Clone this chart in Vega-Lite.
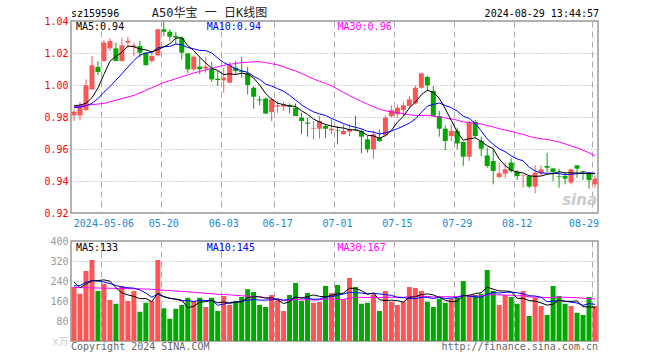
{
  "$schema": "https://vega.github.io/schema/vega-lite/v6.json",
  "autosize": {"type": "pad"},
  "padding": {"left": 43, "top": 6, "right": 0, "bottom": 0},
  "background": "white",
  "spacing": 28,
  "bounds": "flush",
  "config": {
    "view": {"stroke": "#999999", "strokeWidth": 1.5},
    "font": "DejaVu Sans Mono",
    "axis": {"labelOverlap": false, "labelFlush": false}
  },
  "data": {
    "values": [
      {"d":"2024-04-24","o":0.9810,"h":0.9848,"l":0.9775,"c":0.9833,"v":216,"m5":0.9869,"m10":0.9858,"m30":0.9865,"vm5":236,"vm10":220,"vm30":214},
      {"d":"2024-04-25","o":0.9810,"h":0.9894,"l":0.9779,"c":0.9869,"v":189,"m5":0.9875,"m10":0.9862,"m30":0.9869,"vm5":213,"vm10":222,"vm30":213.5},
      {"d":"2024-04-26","o":0.9844,"h":1.0035,"l":0.9838,"c":0.9998,"v":280,"m5":0.9885,"m10":0.9870,"m30":0.9873,"vm5":228,"vm10":235,"vm30":213},
      {"d":"2024-04-29","o":0.9973,"h":1.0181,"l":0.9969,"c":1.0123,"v":324,"m5":0.9921,"m10":0.9885,"m30":0.9877,"vm5":240,"vm10":242,"vm30":212.5},
      {"d":"2024-04-30","o":1.0113,"h":1.0150,"l":1.0060,"c":1.0081,"v":200,"m5":0.9981,"m10":0.9915,"m30":0.9881,"vm5":241.8,"vm10":240,"vm30":212},
      {"d":"2024-05-06","o":1.0150,"h":1.0281,"l":1.0146,"c":1.0265,"v":229,"m5":1.0067,"m10":0.9955,"m30":0.9885,"vm5":244.4,"vm10":236,"vm30":211.5},
      {"d":"2024-05-07","o":1.0229,"h":1.0292,"l":1.0213,"c":1.0275,"v":164,"m5":1.0148,"m10":0.9990,"m30":0.9895,"vm5":239.4,"vm10":230,"vm30":211},
      {"d":"2024-05-08","o":1.0229,"h":1.0265,"l":1.0150,"c":1.0150,"v":149,"m5":1.0179,"m10":1.0030,"m30":0.9905,"vm5":213.2,"vm10":222,"vm30":210.5},
      {"d":"2024-05-09","o":1.0150,"h":1.0296,"l":1.0146,"c":1.0248,"v":220,"m5":1.0204,"m10":1.0070,"m30":0.9915,"vm5":192.4,"vm10":216,"vm30":210},
      {"d":"2024-05-10","o":1.0265,"h":1.0302,"l":1.0233,"c":1.0275,"v":160,"m5":1.0243,"m10":1.0112,"m30":0.9925,"vm5":184.4,"vm10":213.1,"vm30":209.5},
      {"d":"2024-05-13","o":1.0240,"h":1.0265,"l":1.0181,"c":1.0248,"v":200,"m5":1.0239,"m10":1.0153,"m30":0.9935,"vm5":178.6,"vm10":211.5,"vm30":209},
      {"d":"2024-05-14","o":1.0244,"h":1.0275,"l":1.0171,"c":1.0202,"v":117,"m5":1.0225,"m10":1.0187,"m30":0.9951,"vm5":169.2,"vm10":204.3,"vm30":208.5},
      {"d":"2024-05-15","o":1.0202,"h":1.0206,"l":1.0119,"c":1.0125,"v":153,"m5":1.0220,"m10":1.0199,"m30":0.9967,"vm5":170,"vm10":191.6,"vm30":208},
      {"d":"2024-05-16","o":1.0150,"h":1.0213,"l":1.0140,"c":1.0181,"v":160,"m5":1.0206,"m10":1.0205,"m30":0.9983,"vm5":158,"vm10":175.2,"vm30":207},
      {"d":"2024-05-17","o":1.0185,"h":1.0352,"l":1.0181,"c":1.0348,"v":324,"m5":1.0221,"m10":1.0232,"m30":0.9999,"vm5":190.8,"vm10":187.6,"vm30":205},
      {"d":"2024-05-20","o":1.0348,"h":1.0394,"l":1.0306,"c":1.0333,"v":131,"m5":1.0238,"m10":1.0239,"m30":1.0015,"vm5":177,"vm10":177.8,"vm30":203},
      {"d":"2024-05-21","o":1.0333,"h":1.0348,"l":1.0275,"c":1.0302,"v":89,"m5":1.0258,"m10":1.0241,"m30":1.0027,"vm5":171.4,"vm10":170.3,"vm30":201.5},
      {"d":"2024-05-22","o":1.0306,"h":1.0331,"l":1.0254,"c":1.0296,"v":129,"m5":1.0292,"m10":1.0256,"m30":1.0039,"vm5":166.6,"vm10":168.3,"vm30":200},
      {"d":"2024-05-23","o":1.0296,"h":1.0302,"l":1.0160,"c":1.0202,"v":144,"m5":1.0296,"m10":1.0251,"m30":1.0051,"vm5":163.4,"vm10":160.7,"vm30":198.5},
      {"d":"2024-05-24","o":1.0198,"h":1.0198,"l":1.0073,"c":1.0098,"v":173,"m5":1.0246,"m10":1.0234,"m30":1.0063,"vm5":133.2,"vm10":162,"vm30":197},
      {"d":"2024-05-27","o":1.0098,"h":1.0185,"l":1.0088,"c":1.0177,"v":160,"m5":1.0215,"m10":1.0226,"m30":1.0075,"vm5":139,"vm10":158,"vm30":195},
      {"d":"2024-05-28","o":1.0115,"h":1.0177,"l":1.0067,"c":1.0098,"v":173,"m5":1.0174,"m10":1.0216,"m30":1.0085,"vm5":155.8,"vm10":163.6,"vm30":193},
      {"d":"2024-05-29","o":1.0102,"h":1.0177,"l":1.0077,"c":1.0115,"v":136,"m5":1.0138,"m10":1.0215,"m30":1.0094,"vm5":157.2,"vm10":161.9,"vm30":191},
      {"d":"2024-05-30","o":1.0102,"h":1.0144,"l":1.0019,"c":1.0035,"v":173,"m5":1.0105,"m10":1.0200,"m30":1.0104,"vm5":163,"vm10":163.2,"vm30":189},
      {"d":"2024-05-31","o":1.0040,"h":1.0088,"l":0.9994,"c":1.0031,"v":120,"m5":1.0091,"m10":1.0169,"m30":1.0113,"vm5":152.4,"vm10":142.8,"vm30":187},
      {"d":"2024-06-03","o":1.0029,"h":1.0108,"l":0.9952,"c":1.0046,"v":180,"m5":1.0065,"m10":1.0140,"m30":1.0123,"vm5":156.4,"vm10":147.7,"vm30":186},
      {"d":"2024-06-04","o":1.0015,"h":1.0144,"l":1.0010,"c":1.0123,"v":144,"m5":1.0070,"m10":1.0122,"m30":1.0129,"vm5":150.6,"vm10":153.2,"vm30":184.5},
      {"d":"2024-06-05","o":1.0108,"h":1.0150,"l":1.0067,"c":1.0088,"v":160,"m5":1.0065,"m10":1.0101,"m30":1.0135,"vm5":155.4,"vm10":156.3,"vm30":183},
      {"d":"2024-06-06","o":1.0088,"h":1.0175,"l":1.0046,"c":1.0081,"v":176,"m5":1.0074,"m10":1.0089,"m30":1.0140,"vm5":156,"vm10":159.5,"vm30":181},
      {"d":"2024-06-07","o":1.0073,"h":1.0113,"l":0.9942,"c":1.0000,"v":207,"m5":1.0068,"m10":1.0079,"m30":1.0142,"vm5":173.4,"vm10":162.9,"vm30":179.3},
      {"d":"2024-06-11","o":0.9983,"h":0.9994,"l":0.9852,"c":0.9927,"v":196,"m5":1.0044,"m10":1.0054,"m30":1.0145,"vm5":176.6,"vm10":166.5,"vm30":178.7},
      {"d":"2024-06-12","o":0.9910,"h":0.9931,"l":0.9873,"c":0.9904,"v":144,"m5":1.0000,"m10":1.0035,"m30":1.0146,"vm5":176.6,"vm10":163.6,"vm30":177.2},
      {"d":"2024-06-13","o":0.9915,"h":0.9920,"l":0.9821,"c":0.9821,"v":136,"m5":0.9947,"m10":1.0006,"m30":1.0140,"vm5":171.8,"vm10":163.6,"vm30":172.4},
      {"d":"2024-06-14","o":0.9831,"h":0.9921,"l":0.9775,"c":0.9910,"v":184,"m5":0.9912,"m10":0.9993,"m30":1.0133,"vm5":173.4,"vm10":164.7,"vm30":167.7},
      {"d":"2024-06-17","o":0.9865,"h":0.9900,"l":0.9827,"c":0.9873,"v":163,"m5":0.9887,"m10":0.9977,"m30":1.0126,"vm5":164.6,"vm10":169,"vm30":166.5},
      {"d":"2024-06-18","o":0.9865,"h":0.9894,"l":0.9838,"c":0.9879,"v":120,"m5":0.9877,"m10":0.9961,"m30":1.0113,"vm5":149.4,"vm10":163,"vm30":162.8},
      {"d":"2024-06-19","o":0.9873,"h":0.9885,"l":0.9823,"c":0.9863,"v":184,"m5":0.9869,"m10":0.9935,"m30":1.0099,"vm5":157.4,"vm10":167,"vm30":163.5},
      {"d":"2024-06-20","o":0.9858,"h":0.9885,"l":0.9806,"c":0.9806,"v":232,"m5":0.9866,"m10":0.9906,"m30":1.0088,"vm5":176.6,"vm10":174.2,"vm30":166.3},
      {"d":"2024-06-21","o":0.9796,"h":0.9827,"l":0.9692,"c":0.9775,"v":160,"m5":0.9839,"m10":0.9876,"m30":1.0072,"vm5":171.8,"vm10":172.6,"vm30":164.3},
      {"d":"2024-06-24","o":0.9765,"h":0.9796,"l":0.9677,"c":0.9758,"v":192,"m5":0.9816,"m10":0.9852,"m30":1.0055,"vm5":177.6,"vm10":171.1,"vm30":165.3},
      {"d":"2024-06-25","o":0.9727,"h":0.9775,"l":0.9660,"c":0.9731,"v":153,"m5":0.9787,"m10":0.9832,"m30":1.0038,"vm5":184.2,"vm10":166.8,"vm30":163.8},
      {"d":"2024-06-26","o":0.9727,"h":0.9806,"l":0.9665,"c":0.9775,"v":156,"m5":0.9769,"m10":0.9819,"m30":1.0023,"vm5":178.6,"vm10":168,"vm30":165.1},
      {"d":"2024-06-27","o":0.9744,"h":0.9754,"l":0.9671,"c":0.9727,"v":220,"m5":0.9753,"m10":0.9810,"m30":1.0010,"vm5":176.2,"vm10":176.4,"vm30":167.3},
      {"d":"2024-06-28","o":0.9717,"h":0.9785,"l":0.9692,"c":0.9727,"v":192,"m5":0.9744,"m10":0.9791,"m30":0.9995,"vm5":182.6,"vm10":177.2,"vm30":168.4},
      {"d":"2024-07-01","o":0.9717,"h":0.9744,"l":0.9629,"c":0.9713,"v":224,"m5":0.9735,"m10":0.9775,"m30":0.9974,"vm5":189,"vm10":183.3,"vm30":165},
      {"d":"2024-07-02","o":0.9692,"h":0.9754,"l":0.9692,"c":0.9713,"v":167,"m5":0.9731,"m10":0.9759,"m30":0.9953,"vm5":191.8,"vm10":188,"vm30":166.2},
      {"d":"2024-07-03","o":0.9708,"h":0.9754,"l":0.9681,"c":0.9723,"v":252,"m5":0.9721,"m10":0.9745,"m30":0.9934,"vm5":211,"vm10":194.8,"vm30":171.7},
      {"d":"2024-07-04","o":0.9723,"h":0.9806,"l":0.9713,"c":0.9719,"v":216,"m5":0.9719,"m10":0.9736,"m30":0.9915,"vm5":210.2,"vm10":193.2,"vm30":174.6},
      {"d":"2024-07-05","o":0.9713,"h":0.9723,"l":0.9573,"c":0.9677,"v":149,"m5":0.9709,"m10":0.9726,"m30":0.9897,"vm5":201.6,"vm10":192.1,"vm30":174.7},
      {"d":"2024-07-08","o":0.9660,"h":0.9681,"l":0.9577,"c":0.9598,"v":153,"m5":0.9686,"m10":0.9710,"m30":0.9880,"vm5":187.4,"vm10":188.2,"vm30":174.1},
      {"d":"2024-07-09","o":0.9598,"h":0.9713,"l":0.9540,"c":0.9692,"v":187,"m5":0.9682,"m10":0.9706,"m30":0.9864,"vm5":191.4,"vm10":191.6,"vm30":175},
      {"d":"2024-07-10","o":0.9671,"h":0.9723,"l":0.9644,"c":0.9650,"v":120,"m5":0.9667,"m10":0.9694,"m30":0.9849,"vm5":165,"vm10":188,"vm30":173.2},
      {"d":"2024-07-11","o":0.9685,"h":0.9810,"l":0.9681,"c":0.9796,"v":200,"m5":0.9683,"m10":0.9701,"m30":0.9839,"vm5":161.8,"vm10":186,"vm30":175.3},
      {"d":"2024-07-12","o":0.9806,"h":0.9873,"l":0.9796,"c":0.9842,"v":157,"m5":0.9716,"m10":0.9712,"m30":0.9832,"vm5":163.4,"vm10":182.5,"vm30":174.8},
      {"d":"2024-07-15","o":0.9817,"h":0.9879,"l":0.9796,"c":0.9858,"v":144,"m5":0.9768,"m10":0.9727,"m30":0.9827,"vm5":161.6,"vm10":174.5,"vm30":175.6},
      {"d":"2024-07-16","o":0.9844,"h":0.9894,"l":0.9806,"c":0.9873,"v":157,"m5":0.9804,"m10":0.9743,"m30":0.9821,"vm5":155.6,"vm10":173.5,"vm30":174.8},
      {"d":"2024-07-17","o":0.9869,"h":0.9931,"l":0.9852,"c":0.9910,"v":216,"m5":0.9856,"m10":0.9762,"m30":0.9814,"vm5":174.8,"vm10":169.9,"vm30":177.2},
      {"d":"2024-07-18","o":0.9885,"h":0.9998,"l":0.9879,"c":0.9983,"v":212,"m5":0.9893,"m10":0.9788,"m30":0.9810,"vm5":177.2,"vm10":169.5,"vm30":179},
      {"d":"2024-07-19","o":0.9983,"h":1.0077,"l":0.9977,"c":1.0073,"v":200,"m5":0.9939,"m10":0.9828,"m30":0.9810,"vm5":185.8,"vm10":174.6,"vm30":179.8},
      {"d":"2024-07-22","o":1.0050,"h":1.0060,"l":0.9963,"c":0.9998,"v":157,"m5":0.9967,"m10":0.9868,"m30":0.9810,"vm5":188.4,"vm10":175,"vm30":178.1},
      {"d":"2024-07-23","o":0.9963,"h":0.9994,"l":0.9800,"c":0.9806,"v":136,"m5":0.9954,"m10":0.9879,"m30":0.9806,"vm5":184.2,"vm10":169.9,"vm30":176.1},
      {"d":"2024-07-24","o":0.9806,"h":0.9838,"l":0.9677,"c":0.9727,"v":169,"m5":0.9917,"m10":0.9887,"m30":0.9800,"vm5":174.8,"vm10":174.8,"vm30":176.9},
      {"d":"2024-07-25","o":0.9727,"h":0.9748,"l":0.9594,"c":0.9650,"v":153,"m5":0.9851,"m10":0.9872,"m30":0.9794,"vm5":163,"vm10":170.1,"vm30":177.5},
      {"d":"2024-07-26","o":0.9681,"h":0.9754,"l":0.9650,"c":0.9713,"v":170,"m5":0.9779,"m10":0.9859,"m30":0.9788,"vm5":157,"vm10":171.4,"vm30":177},
      {"d":"2024-07-29","o":0.9713,"h":0.9733,"l":0.9598,"c":0.9635,"v":173,"m5":0.9706,"m10":0.9837,"m30":0.9780,"vm5":160.2,"vm10":174.3,"vm30":177.4},
      {"d":"2024-07-30","o":0.9644,"h":0.9644,"l":0.9494,"c":0.9552,"v":240,"m5":0.9655,"m10":0.9805,"m30":0.9769,"vm5":181,"vm10":182.6,"vm30":181.4},
      {"d":"2024-07-31","o":0.9552,"h":0.9775,"l":0.9525,"c":0.9769,"v":180,"m5":0.9664,"m10":0.9791,"m30":0.9766,"vm5":183.2,"vm10":179,"vm30":181.2},
      {"d":"2024-08-01","o":0.9769,"h":0.9781,"l":0.9671,"c":0.9681,"v":184,"m5":0.9670,"m10":0.9760,"m30":0.9761,"vm5":189.4,"vm10":176.2,"vm30":179.6},
      {"d":"2024-08-02","o":0.9650,"h":0.9677,"l":0.9556,"c":0.9602,"v":189,"m5":0.9648,"m10":0.9713,"m30":0.9756,"vm5":193.2,"vm10":175.1,"vm30":180.6},
      {"d":"2024-08-05","o":0.9560,"h":0.9608,"l":0.9483,"c":0.9494,"v":284,"m5":0.9620,"m10":0.9663,"m30":0.9747,"vm5":215.4,"vm10":187.8,"vm30":183.7},
      {"d":"2024-08-06","o":0.9525,"h":0.9598,"l":0.9379,"c":0.9463,"v":200,"m5":0.9602,"m10":0.9629,"m30":0.9738,"vm5":207.4,"vm10":194.2,"vm30":185.2},
      {"d":"2024-08-07","o":0.9425,"h":0.9515,"l":0.9417,"c":0.9448,"v":144,"m5":0.9538,"m10":0.9601,"m30":0.9727,"vm5":200.2,"vm10":191.7,"vm30":184.8},
      {"d":"2024-08-08","o":0.9446,"h":0.9515,"l":0.9417,"c":0.9473,"v":184,"m5":0.9496,"m10":0.9583,"m30":0.9719,"vm5":200.2,"vm10":194.8,"vm30":183.6},
      {"d":"2024-08-09","o":0.9515,"h":0.9540,"l":0.9452,"c":0.9463,"v":176,"m5":0.9468,"m10":0.9558,"m30":0.9710,"vm5":197.6,"vm10":195.4,"vm30":183.1},
      {"d":"2024-08-12","o":0.9458,"h":0.9469,"l":0.9406,"c":0.9431,"v":149,"m5":0.9456,"m10":0.9538,"m30":0.9700,"vm5":170.6,"vm10":193,"vm30":180.6},
      {"d":"2024-08-13","o":0.9431,"h":0.9435,"l":0.9358,"c":0.9435,"v":200,"m5":0.9450,"m10":0.9526,"m30":0.9691,"vm5":170.6,"vm10":189,"vm30":181.7},
      {"d":"2024-08-14","o":0.9431,"h":0.9435,"l":0.9354,"c":0.9365,"v":100,"m5":0.9433,"m10":0.9486,"m30":0.9679,"vm5":161.8,"vm10":181,"vm30":176.6},
      {"d":"2024-08-15","o":0.9365,"h":0.9498,"l":0.9323,"c":0.9452,"v":173,"m5":0.9429,"m10":0.9463,"m30":0.9670,"vm5":159.6,"vm10":179.9,"vm30":175.2},
      {"d":"2024-08-16","o":0.9448,"h":0.9498,"l":0.9435,"c":0.9473,"v":140,"m5":0.9431,"m10":0.9450,"m30":0.9664,"vm5":152.4,"vm10":175,"vm30":174.9},
      {"d":"2024-08-19","o":0.9494,"h":0.9577,"l":0.9456,"c":0.9483,"v":104,"m5":0.9442,"m10":0.9449,"m30":0.9660,"vm5":143.4,"vm10":157,"vm30":173.3},
      {"d":"2024-08-20","o":0.9479,"h":0.9479,"l":0.9400,"c":0.9456,"v":220,"m5":0.9446,"m10":0.9448,"m30":0.9652,"vm5":147.4,"vm10":159,"vm30":174.4},
      {"d":"2024-08-21","o":0.9431,"h":0.9477,"l":0.9358,"c":0.9427,"v":180,"m5":0.9458,"m10":0.9446,"m30":0.9644,"vm5":163.4,"vm10":162.6,"vm30":176.4},
      {"d":"2024-08-22","o":0.9431,"h":0.9456,"l":0.9379,"c":0.9415,"v":149,"m5":0.9451,"m10":0.9440,"m30":0.9632,"vm5":158.6,"vm10":159.1,"vm30":174.7},
      {"d":"2024-08-23","o":0.9390,"h":0.9477,"l":0.9379,"c":0.9473,"v":140,"m5":0.9451,"m10":0.9441,"m30":0.9619,"vm5":158.6,"vm10":155.5,"vm30":174.1},
      {"d":"2024-08-26","o":0.9498,"h":0.9498,"l":0.9421,"c":0.9477,"v":113,"m5":0.9450,"m10":0.9446,"m30":0.9607,"vm5":160.4,"vm10":151.9,"vm30":173.1},
      {"d":"2024-08-27","o":0.9463,"h":0.9463,"l":0.9406,"c":0.9458,"v":104,"m5":0.9450,"m10":0.9448,"m30":0.9593,"vm5":137.2,"vm10":142.3,"vm30":171.3},
      {"d":"2024-08-28","o":0.9446,"h":0.9452,"l":0.9352,"c":0.9406,"v":176,"m5":0.9446,"m10":0.9452,"m30":0.9576,"vm5":136.4,"vm10":149.9,"vm30":170},
      {"d":"2024-08-29","o":0.9379,"h":0.9435,"l":0.9358,"c":0.9415,"v":140,"m5":0.9446,"m10":0.9448,"m30":0.9557,"vm5":134.6,"vm10":146.6,"vm30":167.6}
    ]
  },
  "vconcat": [
    {
      "width": 527,
      "height": 192,
      "encoding": {
        "x": {
          "field": "d", "type": "ordinal",
          "scale": {"paddingInner": 0, "paddingOuter": 0},
          "axis": {
            "title": null,
            "values": ["2024-05-06","2024-05-20","2024-06-03","2024-06-17","2024-07-01","2024-07-15","2024-07-29","2024-08-12","2024-08-29"],
            "labelExpr": "datum.value == '2024-05-06' ? datum.value : substring(datum.value, 5)",
            "labelAngle": 0,
            "labelColor": "#1a88d0",
            "labelFont": "DejaVu Sans Mono",
            "labelFontSize": 10,
            "labelPadding": 5,
            "labelAlign": {"condition": {"test": "datum.value == '2024-08-29'", "value": "right"}, "value": "center"},
            "labelOffset": {"condition": {"test": "datum.value == '2024-08-29'", "value": 4}, "value": 0},
            "labelOverlap": false,
            "labelBound": false,
            "ticks": false,
            "domain": false,
            "grid": true,
            "gridColor": "#aaaaaa",
            "gridDash": [6, 4],
            "gridWidth": 1,
            "bandPosition": 0.05
          }
        }
      },
      "layer": [
        {
          "mark": {"type": "rule", "strokeWidth": 1},
          "encoding": {
            "y": {
              "field": "l", "type": "quantitative",
              "scale": {"domain": [0.92, 1.04], "nice": false, "zero": false},
              "axis": {
                "title": null,
                "values": [0.92, 0.94, 0.96, 0.98, 1.0, 1.02, 1.04],
                "tickCount": 20,
                "format": ".2f",
                "labelColor": "#ff0000",
                "labelFont": "DejaVu Sans Mono",
                "labelFontSize": 10,
                "labelPadding": 3,
                "labelFlush": false,
                "labelOverlap": false,
                "ticks": false,
                "domain": false,
                "grid": true,
                "gridColor": "#aaaaaa",
                "gridDash": [1, 2],
                "gridWidth": 1
              }
            },
            "y2": {"field": "h"},
            "color": {"condition": {"test": "datum.c >= datum.o", "value": "#ff5555"}, "value": "#00a800"}
          }
        },
        {
          "mark": {"type": "bar", "width": 5},
          "encoding": {
            "y": {"field": "o", "type": "quantitative", "title": null},
            "y2": {"field": "c"},
            "color": {"condition": {"test": "datum.c >= datum.o", "value": "#ff5555"}, "value": "#00a800"}
          }
        },
        {
          "mark": {"type": "line", "color": "#ff00ff", "strokeWidth": 1},
          "encoding": {"y": {"field": "m30", "type": "quantitative", "title": null}}
        },
        {
          "mark": {"type": "line", "color": "#0000ff", "strokeWidth": 1},
          "encoding": {"y": {"field": "m10", "type": "quantitative", "title": null}}
        },
        {
          "mark": {"type": "line", "color": "#000000", "strokeWidth": 1},
          "encoding": {"y": {"field": "m5", "type": "quantitative", "title": null}}
        },
        {
          "data": {"values": [{"t": "MA5:0.94"}]},
          "mark": {"type": "text", "align": "left", "baseline": "middle", "font": "DejaVu Sans Mono", "fontSize": 10, "color": "#000000", "dx": 2},
          "encoding": {"x": {"datum": "2024-04-24", "type": "ordinal"}, "y": {"datum": 1.0362, "type": "quantitative"}, "text": {"field": "t"}}
        },
        {
          "data": {"values": [{"t": "MA10:0.94"}]},
          "mark": {"type": "text", "align": "left", "baseline": "middle", "font": "DejaVu Sans Mono", "fontSize": 10, "color": "#0000ff", "dx": 1},
          "encoding": {"x": {"datum": "2024-05-29", "type": "ordinal"}, "y": {"datum": 1.0362, "type": "quantitative"}, "text": {"field": "t"}}
        },
        {
          "data": {"values": [{"t": "MA30:0.96"}]},
          "mark": {"type": "text", "align": "left", "baseline": "middle", "font": "DejaVu Sans Mono", "fontSize": 10, "color": "#ff00ff", "dx": 0},
          "encoding": {"x": {"datum": "2024-07-01", "type": "ordinal"}, "y": {"datum": 1.0362, "type": "quantitative"}, "text": {"field": "t"}}
        },
        {
          "data": {"values": [{"t": "sz159596"}]},
          "mark": {"type": "text", "align": "left", "baseline": "middle", "font": "DejaVu Sans Mono", "fontSize": 10, "color": "#000000", "dx": -3},
          "encoding": {"x": {"datum": "2024-04-24", "type": "ordinal"}, "y": {"datum": 1.0444, "type": "quantitative"}, "text": {"field": "t"}}
        },
        {
          "data": {"values": [{"t": "A50华宝 一 日K线图"}]},
          "mark": {"type": "text", "align": "left", "baseline": "middle", "font": "DejaVu Sans Mono, Noto Sans CJK SC", "fontSize": 12, "color": "#222222", "dx": 0},
          "encoding": {"x": {"datum": "2024-05-16", "type": "ordinal"}, "y": {"datum": 1.0450, "type": "quantitative"}, "text": {"field": "t"}}
        },
        {
          "data": {"values": [{"t": "2024-08-29 13:44:57"}]},
          "mark": {"type": "text", "align": "right", "baseline": "middle", "font": "DejaVu Sans Mono", "fontSize": 10, "color": "#000000", "dx": 4},
          "encoding": {"x": {"datum": "2024-08-29", "type": "ordinal"}, "y": {"datum": 1.0444, "type": "quantitative"}, "text": {"field": "t"}}
        },
        {
          "data": {"values": [{"t": "sina"}]},
          "mark": {"type": "text", "align": "right", "baseline": "middle", "font": "DejaVu Sans", "fontSize": 15, "fontWeight": "bold", "fontStyle": "italic", "color": "#cccccc", "dx": 2},
          "encoding": {"x": {"datum": "2024-08-29", "type": "ordinal"}, "y": {"datum": 0.9281, "type": "quantitative"}, "text": {"field": "t"}}
        }
      ]
    },
    {
      "width": 527,
      "height": 100,
      "encoding": {
        "x": {
          "field": "d", "type": "ordinal",
          "scale": {"paddingInner": 0, "paddingOuter": 0},
          "axis": {
            "title": null,
            "values": ["2024-05-06","2024-05-20","2024-06-03","2024-06-17","2024-07-01","2024-07-15","2024-07-29","2024-08-12","2024-08-29"],
            "labels": false,
            "ticks": false,
            "domain": false,
            "grid": true,
            "gridColor": "#aaaaaa",
            "gridDash": [6, 4],
            "gridWidth": 1,
            "bandPosition": 0.05
          }
        }
      },
      "layer": [
        {
          "mark": {"type": "bar", "width": 5},
          "encoding": {
            "y": {
              "field": "v", "type": "quantitative",
              "scale": {"domain": [0, 400], "nice": false},
              "axis": {
                "title": null,
                "values": [0, 80, 160, 240, 320, 400],
                "tickCount": 20,
                "labelExpr": "datum.value == 0 ? 'x万' : datum.label",
                "labelColor": {"condition": {"test": "datum.value == 0", "value": "#cccccc"}, "value": "#999999"},
                "labelFont": "DejaVu Sans Mono, Noto Sans CJK SC",
                "labelFontSize": 10,
                "labelPadding": 3,
                "labelFlush": false,
                "labelOverlap": false,
                "ticks": false,
                "domain": false,
                "grid": true,
                "gridColor": "#aaaaaa",
                "gridDash": [1, 2],
                "gridWidth": 1
              }
            },
            "color": {"condition": {"test": "datum.c >= datum.o", "value": "#ff5555"}, "value": "#00a800"}
          }
        },
        {
          "mark": {"type": "line", "color": "#ff00ff", "strokeWidth": 1},
          "encoding": {"y": {"field": "vm30", "type": "quantitative", "title": null}}
        },
        {
          "mark": {"type": "line", "color": "#0000ff", "strokeWidth": 1},
          "encoding": {"y": {"field": "vm10", "type": "quantitative", "title": null}}
        },
        {
          "mark": {"type": "line", "color": "#000000", "strokeWidth": 1},
          "encoding": {"y": {"field": "vm5", "type": "quantitative", "title": null}}
        },
        {
          "data": {"values": [{"t": "MA5:133"}]},
          "mark": {"type": "text", "align": "left", "baseline": "middle", "font": "DejaVu Sans Mono", "fontSize": 10, "color": "#000000", "dx": 2},
          "encoding": {"x": {"datum": "2024-04-24", "type": "ordinal"}, "y": {"datum": 374, "type": "quantitative"}, "text": {"field": "t"}}
        },
        {
          "data": {"values": [{"t": "MA10:145"}]},
          "mark": {"type": "text", "align": "left", "baseline": "middle", "font": "DejaVu Sans Mono", "fontSize": 10, "color": "#0000ff", "dx": 1},
          "encoding": {"x": {"datum": "2024-05-29", "type": "ordinal"}, "y": {"datum": 374, "type": "quantitative"}, "text": {"field": "t"}}
        },
        {
          "data": {"values": [{"t": "MA30:167"}]},
          "mark": {"type": "text", "align": "left", "baseline": "middle", "font": "DejaVu Sans Mono", "fontSize": 10, "color": "#ff00ff", "dx": 0},
          "encoding": {"x": {"datum": "2024-07-01", "type": "ordinal"}, "y": {"datum": 374, "type": "quantitative"}, "text": {"field": "t"}}
        },
        {
          "data": {"values": [{"t": "Copyright 2024 SINA.COM"}]},
          "mark": {"type": "text", "align": "left", "baseline": "middle", "font": "DejaVu Sans Mono", "fontSize": 10, "color": "#666666", "dx": -3},
          "encoding": {"x": {"datum": "2024-04-24", "type": "ordinal"}, "y": {"datum": -22, "type": "quantitative"}, "text": {"field": "t"}}
        },
        {
          "data": {"values": [{"t": "http://finance.sina.com.cn"}]},
          "mark": {"type": "text", "align": "right", "baseline": "middle", "font": "DejaVu Sans Mono", "fontSize": 10, "color": "#666666", "dx": 3},
          "encoding": {"x": {"datum": "2024-08-29", "type": "ordinal"}, "y": {"datum": -22, "type": "quantitative"}, "text": {"field": "t"}}
        }
      ]
    }
  ]
}
